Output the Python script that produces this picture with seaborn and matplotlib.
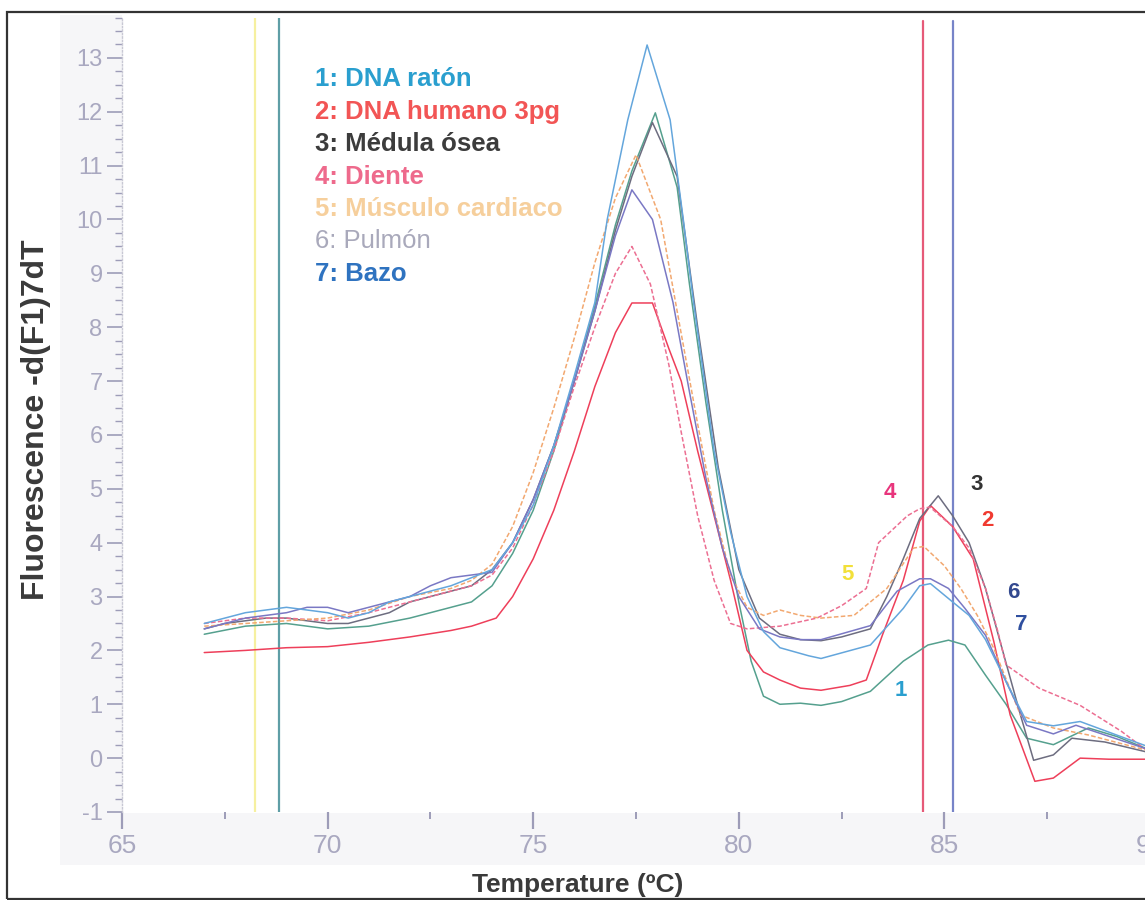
import numpy as np
import pandas as pd
import matplotlib
matplotlib.use("Agg")
import matplotlib.pyplot as plt
from matplotlib.ticker import MultipleLocator
from matplotlib.patches import Rectangle
import seaborn as sns

sns.set_theme(style="white")
plt.rcParams['font.family'] = ['Liberation Sans', 'DejaVu Sans']
plt.rcParams['axes.unicode_minus'] = False

# melt curves: temperature (ºC) and -d(F1)/dT
t_raton = [67, 68, 69, 70, 71, 72, 73, 73.5, 74, 74.5, 75, 75.5, 76, 76.5, 77, 77.4, 77.97, 78.5, 78.8,
           79.2, 79.6, 80, 80.3, 80.6, 81, 81.5, 82, 82.5, 83.2, 84, 84.6, 85.1, 85.5, 86, 86.5, 87,
           87.65, 88.5, 89.2, 90]
v_raton = [2.3, 2.45, 2.5, 2.4, 2.45, 2.6, 2.8, 2.9, 3.2, 3.8, 4.6, 5.7, 7.0, 8.4, 9.9, 10.9, 11.98, 10.6, 8.8,
           6.6, 4.6, 2.9, 1.8, 1.15, 1.0, 1.02, 0.98, 1.05, 1.24, 1.8, 2.1, 2.19, 2.1, 1.54, 1.0, 0.37,
           0.25, 0.56, 0.4, 0.15]

t_humano = [67, 68, 69, 70, 71, 72, 73, 73.5, 74.1, 74.5, 75, 75.5, 76, 76.5, 77, 77.4, 77.9, 78.3, 78.6,
            79, 79.4, 79.8, 80.2, 80.6, 81, 81.5, 82, 82.7, 83.1, 83.5, 84, 84.4, 84.66, 85.2, 85.7,
            86.2, 86.6, 87.2, 87.65, 88.3, 89, 90]
v_humano = [1.96, 2.0, 2.05, 2.07, 2.15, 2.25, 2.37, 2.45, 2.6, 3.0, 3.7, 4.6, 5.7, 6.9, 7.9, 8.45, 8.45, 7.6, 7.0,
            5.7, 4.5, 3.3, 2.0, 1.6, 1.45, 1.3, 1.26, 1.35, 1.45, 2.3, 3.3, 4.4, 4.69, 4.3, 3.7,
            2.17, 0.8, -0.43, -0.37, 0.0, -0.02, -0.02]

t_medula = [67, 67.5, 68, 68.5, 69, 69.5, 70, 70.5, 71, 71.5, 72, 72.5, 73, 73.5, 74, 74.5, 75, 75.5, 76,
            76.5, 77, 77.4, 77.9, 78.5, 79, 79.5, 80, 80.5, 81, 81.5, 82, 82.5, 83.2, 83.6, 84, 84.4,
            84.85, 85.2, 85.6, 86, 86.4, 86.85, 87.17, 87.65, 88.1, 88.9, 90]
v_medula = [2.4, 2.5, 2.55, 2.6, 2.6, 2.55, 2.5, 2.5, 2.6, 2.7, 2.9, 3.0, 3.1, 3.2, 3.5, 4.0, 4.8, 5.8, 7.0,
            8.3, 9.8, 10.8, 11.8, 10.8, 8.0, 5.4, 3.5, 2.6, 2.3, 2.2, 2.18, 2.25, 2.4, 3.0, 3.7, 4.45,
            4.87, 4.5, 4.0, 3.15, 2.04, 0.8, -0.04, 0.06, 0.37, 0.3, 0.1]

t_diente = [67, 68, 69, 70, 71, 72, 73, 73.5, 74, 74.5, 75, 75.5, 76, 76.5, 77, 77.4, 77.85, 78.3, 78.6,
            79, 79.4, 79.8, 80.2, 81, 81.9, 82.5, 83.1, 83.4, 84.1, 84.4, 84.65, 85.2, 85.6, 86, 86.3,
            86.5, 87.3, 88.3, 89.3, 90]
v_diente = [2.5, 2.6, 2.6, 2.55, 2.7, 2.9, 3.1, 3.2, 3.4, 3.9, 4.7, 5.7, 6.9, 8.0, 9.0, 9.5, 8.8, 7.3, 6.05,
            4.5, 3.3, 2.5, 2.4, 2.45, 2.6, 2.83, 3.15, 4.0, 4.5, 4.63, 4.66, 4.3, 3.9, 3.15, 2.35,
            1.73, 1.3, 0.98, 0.5, 0.1]

t_musculo = [67, 68, 69, 70, 71, 72, 73, 73.5, 74, 74.5, 75, 75.5, 76, 76.5, 77, 77.5, 78.1, 78.5, 79,
             79.4, 79.8, 80.2, 80.6, 81, 81.5, 82, 82.8, 83.6, 84.25, 84.5, 85, 85.4, 85.8, 86.2, 86.85,
             87.65, 88.5, 90]
v_musculo = [2.45, 2.5, 2.55, 2.6, 2.75, 3.0, 3.15, 3.3, 3.6, 4.3, 5.3, 6.5, 7.8, 9.2, 10.4, 11.2, 10.0, 8.3, 6.2,
             4.6, 3.4, 2.8, 2.65, 2.75, 2.65, 2.6, 2.65, 3.15, 3.9, 3.93, 3.57, 3.15, 2.65, 2.04, 0.8,
             0.56, 0.43, 0.13]

t_pulmon = [67, 68, 69, 69.5, 70, 70.5, 71, 71.5, 72, 72.5, 73, 73.5, 74, 74.5, 75, 75.5, 76, 76.5, 77,
            77.4, 77.9, 78.4, 78.8, 79.2, 79.6, 80, 80.5, 81, 81.5, 82, 83.2, 83.85, 84.4, 84.66, 85.1,
            85.5, 86, 86.5, 87, 87.65, 88.2, 90]
v_pulmon = [2.4, 2.6, 2.7, 2.8, 2.8, 2.7, 2.8, 2.9, 3.0, 3.2, 3.35, 3.4, 3.45, 4.0, 4.8, 5.8, 7.0, 8.3, 9.7,
            10.55, 10.0, 8.46, 6.8, 5.2, 3.9, 3.0, 2.4, 2.25, 2.2, 2.2, 2.46, 3.1, 3.33, 3.33, 3.15,
            2.78, 2.28, 1.42, 0.61, 0.45, 0.61, 0.15]

t_bazo = [67, 67.5, 68, 68.5, 69, 69.5, 70, 70.5, 71, 71.5, 72, 72.5, 73, 73.5, 74, 74.5, 75, 75.5, 76,
          76.5, 76.8, 77.3, 77.77, 78.33, 78.65, 78.9, 79.4, 79.8, 80.2, 80.6, 81, 81.7, 82, 83.2, 84,
          84.4, 84.66, 85.2, 85.6, 86, 86.5, 87, 87.65, 88.3, 90]
v_bazo = [2.5, 2.6, 2.7, 2.75, 2.8, 2.75, 2.7, 2.6, 2.7, 2.9, 3.0, 3.1, 3.2, 3.35, 3.5, 4.0, 4.7, 5.8, 7.1,
          8.46, 10.0, 11.85, 13.24, 11.85, 10.0, 8.46, 5.7, 4.2, 3.0, 2.35, 2.05, 1.9, 1.85, 2.1, 2.78,
          3.2, 3.24, 2.9, 2.65, 2.2, 1.42, 0.68, 0.6, 0.68, 0.2]

legend_labels = ["1: DNA ratón", "2: DNA humano 3pg", "3: Médula ósea", "4: Diente",
                 "5: Músculo cardiaco", "6: Pulmón", "7: Bazo"]
legend_colors = ["#2a9fcf", "#f25555", "#3c3c3c", "#ee6a8c", "#f6cf9c", "#a9a9bb", "#2f73c0"]

# cursor lines (ºC)
cursor_temps = [68.24, 68.82, 84.47, 85.22]
cursor_colors = ["#f6f0a0", "#5f9ea6", "#e65a78", "#7784c8"]

curves = [
    (t_raton, v_raton, "#55a08e", "-"),
    (t_humano, v_humano, "#ee3f5a", "-"),
    (t_medula, v_medula, "#6d6d80", "-"),
    (t_diente, v_diente, "#ec6f92", (0, (3, 1.5))),
    (t_musculo, v_musculo, "#f2a870", (0, (3, 1.5))),
    (t_pulmon, v_pulmon, "#7a78c4", "-"),
    (t_bazo, v_bazo, "#64a6dc", "-"),
]

fig = plt.figure(figsize=(11.45, 9), dpi=100)
ax = fig.add_axes([122 / 1145, 88 / 900, 1028 / 1145, (812 - 17.5) / 900])

for xs, ys, col, ls in curves:
    sns.lineplot(x=xs, y=ys, ax=ax, color=col, linewidth=1.1, linestyle=ls,
                 sort=False, estimator=None)

for t, c in zip(cursor_temps, cursor_colors):
    top = 13.74 if t < 75 else 13.68
    ax.plot([t, t], [-1, top], color=c, linewidth=1.6, zorder=1)

ax.set_xlim(65, 90)
ax.set_ylim(-1, 13.75)
ax.xaxis.set_major_locator(MultipleLocator(5))
ax.xaxis.set_minor_locator(MultipleLocator(2.5))
ax.yaxis.set_major_locator(MultipleLocator(1))
ax.yaxis.set_minor_locator(MultipleLocator(0.25))
ax.set_yticks(range(-1, 14))

tick_col = "#9d9cb8"
ax.tick_params(axis="y", which="major", direction="out", length=11, width=1.2, color=tick_col,
               labelcolor="#a9a8c0", labelsize=17, left=True, pad=3)
ax.tick_params(axis="y", which="minor", direction="out", length=5, width=1.0, color=tick_col, left=True)
ax.tick_params(axis="x", which="major", direction="out", length=12, width=1.6, color=tick_col,
               labelcolor="#a9a8c0", labelsize=19, bottom=True, pad=4)
ax.tick_params(axis="x", which="minor", direction="out", length=5, width=1.4, color=tick_col, bottom=True)
for lab in ax.get_yticklabels() + ax.get_xticklabels():
    lab.set_fontfamily(['Liberation Sans Narrow', 'Liberation Sans', 'DejaVu Sans'])

for s in ["top", "right", "bottom"]:
    ax.spines[s].set_visible(False)
ax.spines["left"].set_color("#c8c8d4")
ax.spines["left"].set_linestyle((0, (1, 1.5)))
ax.spines["left"].set_linewidth(1.0)
ax.set_facecolor("none")

ax.set_xlabel("Temperature (ºC)", fontsize=19, fontweight="bold", color="#3a3a3a")
ax.set_ylabel("Fluorescence -d(F1)7dT", fontsize=23, fontweight="bold", color="#3a3a3a")
ax.xaxis.set_label_coords((578 - 122) / 1028, -(885 - 812) / (812 - 17.5))
ax.xaxis.label.set_va("center")
ax.yaxis.set_label_coords(-(122 - 36) / 1028, (812 - 420) / (812 - 17.5))
ax.yaxis.label.set_va("center")

# legend text block
for i, (lab, col) in enumerate(zip(legend_labels, legend_colors)):
    weight = "normal" if i == 5 else "bold"
    fig.text(315 / 1145, 1 - (79 + i * 32.5) / 900, lab, color=col, fontsize=18.5,
             fontweight=weight, va="center", ha="left")

# curve numbers
tags = [("4", 890, 493, "#e8357c"), ("3", 977, 484, "#333333"), ("2", 987, 520, "#f03a30"),
        ("5", 848, 575, "#f2e03a"), ("6", 1013, 592, "#33498f"), ("7", 1021, 625, "#2f4f9f"),
        ("1", 901, 690, "#2a9fcf")]
for txt, px, py, col in tags:
    fig.text(px / 1145, 1 - py / 900, txt, color=col, fontsize=16, fontweight="bold",
             ha="center", va="center")

# faint scan bands behind tick labels and the outer frame
fig.patches.append(Rectangle((60 / 1145, 85 / 900), 62 / 1145, 800 / 900, transform=fig.transFigure,
                             facecolor="#f6f6f8", edgecolor="none", zorder=-5))
fig.patches.append(Rectangle((60 / 1145, 35 / 900), 1100 / 1145, 52 / 900, transform=fig.transFigure,
                             facecolor="#f6f6f8", edgecolor="none", zorder=-5))
fig.patches.append(Rectangle((7 / 1145, 1 / 900), 1150 / 1145, 887 / 900, transform=fig.transFigure,
                             facecolor="none", edgecolor="#333333", linewidth=1.6, zorder=10))

fig.savefig("out.png", dpi=100, facecolor="white")
